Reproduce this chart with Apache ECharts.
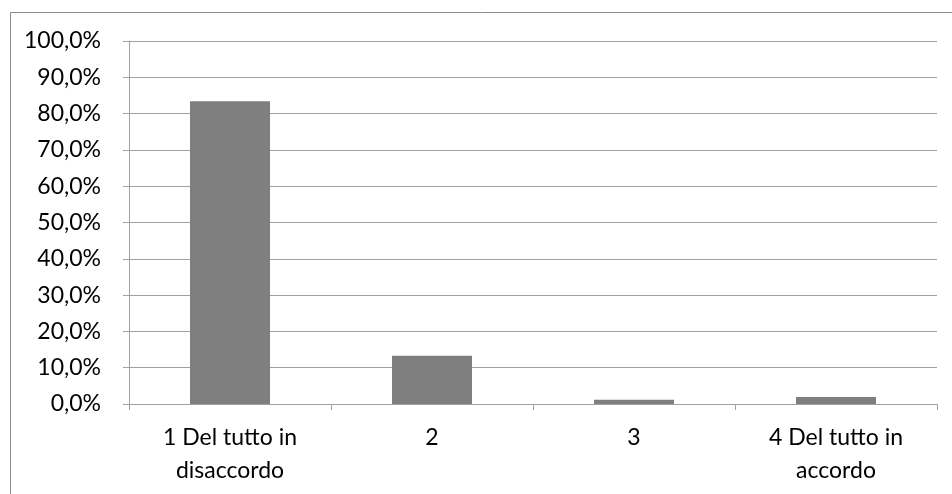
<!DOCTYPE html>
<html>
<head>
<meta charset="utf-8">
<script src="https://cdn.jsdelivr.net/npm/echarts@6/dist/echarts.min.js"></script>
<style>html,body{margin:0;padding:0;background:#fff}#c{width:952px;height:494px}</style>
</head>
<body>
<div id="c"></div>
<script>
const categories = ['1 Del tutto in\ndisaccordo', '2', '3', '4 Del tutto in\naccordo'];
const values = [83.4, 13.3, 1.2, 1.9];
const yMin = 0, yMax = 100, yStep = 10;

const chart = echarts.init(document.getElementById('c'), null, {renderer: 'canvas'});
const fontFamily = 'Lato, "Open Sans", sans-serif';
chart.setOption({
  animation: false,
  backgroundColor: '#fff',
  graphic: [{
    type: 'rect', left: 8, top: 10, z: -1,
    shape: {width: 942, height: 500},
    style: {fill: 'none', stroke: '#8c8c8c', lineWidth: 1}
  }],
  grid: {left: 129, right: 15, top: 41, bottom: 90, containLabel: false},
  xAxis: {
    type: 'category',
    data: categories,
    axisLine: {show: true, lineStyle: {color: '#a0a0a0', width: 1}},
    axisTick: {show: true, length: 6, lineStyle: {color: '#a0a0a0'}},
    axisLabel: {color: '#000', fontFamily: fontFamily, fontSize: 23, lineHeight: 33, margin: 17, interval: 0}
  },
  yAxis: {
    type: 'value',
    min: yMin, max: yMax, interval: yStep,
    axisLine: {show: true, lineStyle: {color: '#a0a0a0', width: 1}},
    axisTick: {show: true, length: 6, lineStyle: {color: '#a0a0a0'}},
    splitLine: {show: true, lineStyle: {color: '#a0a0a0', width: 1}},
    axisLabel: {
      color: '#000', fontFamily: fontFamily, fontSize: 23, margin: 28,
      formatter: v => v.toFixed(1).replace('.', ',') + '%'
    }
  },
  series: [{
    type: 'bar',
    data: values,
    barWidth: 80,
    itemStyle: {color: '#7f7f7f'}
  }]
});
</script>
</body>
</html>
